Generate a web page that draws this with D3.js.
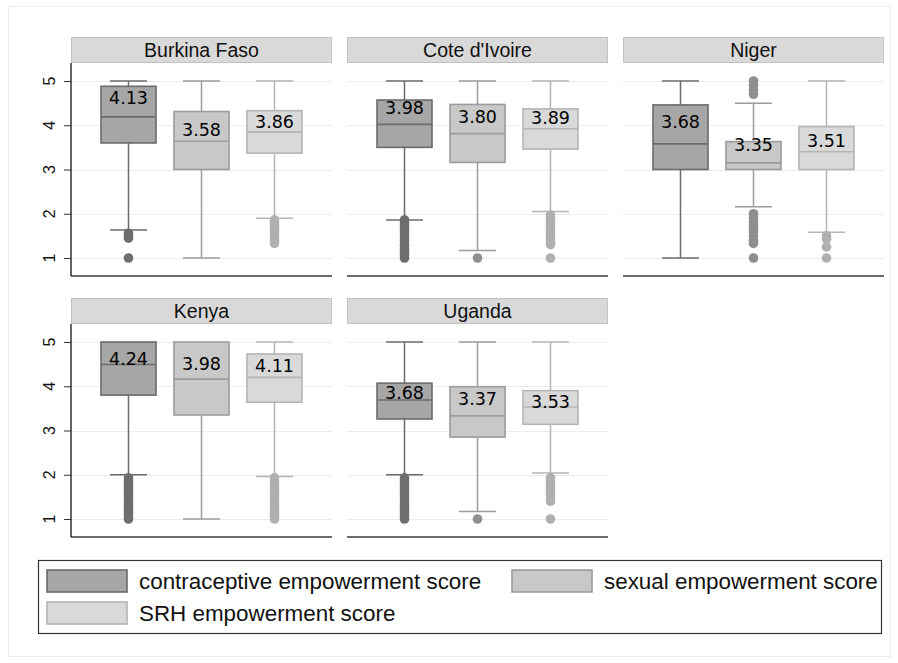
<!DOCTYPE html>
<html>
<head>
<meta charset="utf-8">
<title>Empowerment scores by country</title>
<script src="https://cdn.jsdelivr.net/npm/d3@7"></script>
<style>
  body { margin: 0; background: #fff; }
  svg { display: block; }
</style>
</head>
<body>
<div id="chart"></div>
<script>
// panels, series
var countries = ["Burkina Faso", "Cote d'Ivoire", "Niger", "Kenya", "Uganda"];
var series = ["contraceptive empowerment score", "sexual empowerment score", "SRH empowerment score"];
var yTicks = [1, 2, 3, 4, 5];

// box stats, one row per country, one column per series
var q1      = [[3.60, 3.00, 3.37], [3.50, 3.16, 3.46], [3.00, 3.00, 3.00], [3.80, 3.35, 3.64], [3.26, 2.85, 3.14]];
var median  = [[4.19, 3.64, 3.85], [4.02, 3.81, 3.92], [3.58, 3.15, 3.40], [4.49, 4.16, 4.20], [3.69, 3.33, 3.53]];
var q3      = [[4.88, 4.31, 4.33], [4.57, 4.47, 4.37], [4.46, 3.63, 3.97], [5.00, 5.00, 4.73], [4.07, 3.99, 3.90]];
var whiskLo = [[1.63, 1.00, 1.90], [1.86, 1.17, 2.05], [1.00, 2.16, 1.58], [2.00, 1.00, 1.96], [2.00, 1.17, 2.04]];
var whiskHi = [[5, 5, 5], [5, 5, 5], [5, 4.50, 5], [5, 5, 5], [5, 5, 5]];
var means   = [[4.13, 3.58, 3.86], [3.98, 3.80, 3.89], [3.68, 3.35, 3.51], [4.24, 3.98, 4.11], [3.68, 3.37, 3.53]];
// where the mean label sits (in score units)
var labelAt = [[4.62, 3.91, 4.08], [4.40, 4.19, 4.18], [4.08, 3.55, 3.65], [4.63, 4.50, 4.47], [3.86, 3.71, 3.65]];

var outliers = [
  [[1.56, 1.50, 1.45, 1.00], [], [1.86, 1.80, 1.73, 1.67, 1.60, 1.53, 1.47, 1.40, 1.33]],
  [[1.86, 1.80, 1.73, 1.67, 1.60, 1.53, 1.47, 1.40, 1.33, 1.27, 1.20, 1.13, 1.07, 1.00], [1.00],
   [1.97, 1.90, 1.83, 1.77, 1.70, 1.63, 1.57, 1.50, 1.43, 1.37, 1.30, 1.00]],
  [[], [5.00, 4.90, 4.80, 4.70, 2.00, 1.90, 1.80, 1.73, 1.67, 1.60, 1.50, 1.40, 1.33, 1.00], [1.50, 1.43, 1.25, 1.00]],
  [[1.93, 1.87, 1.80, 1.73, 1.67, 1.60, 1.53, 1.47, 1.40, 1.33, 1.27, 1.20, 1.13, 1.07, 1.00], [],
   [1.93, 1.87, 1.80, 1.73, 1.67, 1.60, 1.53, 1.47, 1.40, 1.33, 1.27, 1.20, 1.13, 1.07, 1.00]],
  [[1.93, 1.87, 1.80, 1.73, 1.67, 1.60, 1.53, 1.47, 1.40, 1.33, 1.27, 1.20, 1.13, 1.07, 1.00], [1.00],
   [1.93, 1.87, 1.80, 1.73, 1.67, 1.60, 1.53, 1.47, 1.40, 1.00]]
];

var fills   = ["#a6a6a6", "#c8c8c8", "#d9d9d9"];
var strokes = ["#6b6b6b", "#9c9c9c", "#b5b5b5"];
var dots    = ["#6e6e6e", "#8f8f8f", "#b0b0b0"];

var W = 898, H = 663;
var panelW = 261, plotH = 213, stripH = 26;
var colX = [71, 347, 623];
var rowY = [37, 298];

var svg = d3.select("#chart").append("svg")
  .attr("width", W).attr("height", H)
  .style("font-family", "'Liberation Sans', Arial, sans-serif");

// faint outer frame
svg.append("rect")
  .attr("x", 8.5).attr("y", 6.5).attr("width", 882).attr("height", 650)
  .attr("fill", "none").attr("stroke", "#e8eef0");

var y = d3.scaleLinear().domain([1 - 18 / 44.25, 5 + 18 / 44.25]).range([plotH, 0]);
var x = d3.scalePoint().domain(d3.range(3)).range([0, panelW]).padding(0.7877);
var boxW = 55, capW = 37;

countries.forEach(function (name, ci) {
  var col = ci % 3, row = Math.floor(ci / 3);
  var g = svg.append("g").attr("transform", "translate(" + colX[col] + "," + rowY[row] + ")");

  // strip header
  g.append("rect")
    .attr("x", 0.5).attr("y", 0.5).attr("width", panelW - 1).attr("height", stripH - 1)
    .attr("fill", "#d9d9d9").attr("stroke", "#c2c2c2");
  g.append("text")
    .attr("x", panelW / 2).attr("y", 19.5)
    .attr("text-anchor", "middle")
    .style("font-size", "19.5px").attr("fill", "#111")
    .text(name);

  var p = g.append("g").attr("transform", "translate(0," + stripH + ")");

  // gridlines
  p.selectAll(".grid").data(yTicks).enter().append("line")
    .attr("x1", 0).attr("x2", panelW)
    .attr("y1", function (d) { return Math.round(y(d)) + 0.5; })
    .attr("y2", function (d) { return Math.round(y(d)) + 0.5; })
    .attr("stroke", "#e6eef1").attr("stroke-width", 1.2);

  // bottom axis line
  p.append("line")
    .attr("x1", 0).attr("x2", panelW).attr("y1", plotH).attr("y2", plotH)
    .attr("stroke", "#3a3a3a").attr("stroke-width", 1.5);

  // left axis only on first column
  if (col === 0) {
    var ax = p.append("g").call(d3.axisLeft(y).tickValues(yTicks).tickSize(7).tickFormat(""));
    ax.select(".domain").remove();
    ax.selectAll(".tick line").attr("stroke", "#333");
    p.append("line").attr("x1", 0).attr("x2", 0).attr("y1", 0).attr("y2", plotH)
      .attr("stroke", "#111").attr("stroke-width", 1.3);
    p.selectAll(".ylab").data(yTicks).enter().append("text")
      .attr("transform", function (d) { return "translate(-16," + y(d) + ") rotate(-90)"; })
      .attr("text-anchor", "middle")
      .style("font-size", "16px").attr("fill", "#111")
      .text(function (d) { return d; });
  }

  series.forEach(function (s, si) {
    var cx = x(si);
    var sg = p.append("g");

    // whiskers
    if (whiskHi[ci][si] > q3[ci][si]) {
      sg.append("line").attr("x1", cx).attr("x2", cx)
        .attr("y1", y(q3[ci][si])).attr("y2", y(whiskHi[ci][si]))
        .attr("stroke", strokes[si]).attr("stroke-width", 1.5);
      sg.append("line").attr("x1", cx - capW / 2).attr("x2", cx + capW / 2)
        .attr("y1", y(whiskHi[ci][si])).attr("y2", y(whiskHi[ci][si]))
        .attr("stroke", strokes[si]).attr("stroke-width", 1.5);
    }
    if (whiskLo[ci][si] < q1[ci][si]) {
      sg.append("line").attr("x1", cx).attr("x2", cx)
        .attr("y1", y(q1[ci][si])).attr("y2", y(whiskLo[ci][si]))
        .attr("stroke", strokes[si]).attr("stroke-width", 1.5);
      sg.append("line").attr("x1", cx - capW / 2).attr("x2", cx + capW / 2)
        .attr("y1", y(whiskLo[ci][si])).attr("y2", y(whiskLo[ci][si]))
        .attr("stroke", strokes[si]).attr("stroke-width", 1.5);
    }

    // box
    sg.append("rect")
      .attr("x", cx - boxW / 2).attr("width", boxW)
      .attr("y", y(q3[ci][si])).attr("height", y(q1[ci][si]) - y(q3[ci][si]))
      .attr("fill", fills[si]).attr("stroke", strokes[si]).attr("stroke-width", 1.6);
    sg.append("line")
      .attr("x1", cx - boxW / 2).attr("x2", cx + boxW / 2)
      .attr("y1", y(median[ci][si])).attr("y2", y(median[ci][si]))
      .attr("stroke", strokes[si]).attr("stroke-width", 1.6);

    // outside values
    sg.selectAll(".out").data(outliers[ci][si]).enter().append("circle")
      .attr("cx", cx).attr("cy", function (d) { return y(d); })
      .attr("r", 4.8).attr("fill", dots[si]);

    // mean label
    sg.append("text")
      .attr("x", cx).attr("y", y(labelAt[ci][si]))
      .attr("dy", "0.36em")
      .attr("text-anchor", "middle")
      .style("font-family", "'DejaVu Sans', sans-serif")
      .style("font-size", "17.5px").attr("fill", "#000")
      .text(d3.format(".2f")(means[ci][si]));
  });
});

// legend
var lg = svg.append("g");
lg.append("rect")
  .attr("x", 38.5).attr("y", 560.5).attr("width", 843).attr("height", 73)
  .attr("fill", "#fff").attr("stroke", "#333").attr("stroke-width", 1.2);

var legPos = [[47, 570], [512, 570], [47, 602]];
series.forEach(function (s, si) {
  var lx = legPos[si][0], ly = legPos[si][1];
  lg.append("rect")
    .attr("x", lx).attr("y", ly).attr("width", 80).attr("height", 22)
    .attr("fill", fills[si]).attr("stroke", strokes[si]).attr("stroke-width", 1.6);
  lg.append("text")
    .attr("x", lx + 92).attr("y", ly + 19)
    .style("font-size", "22.4px").attr("fill", "#111")
    .text(s);
});
</script>
</body>
</html>
